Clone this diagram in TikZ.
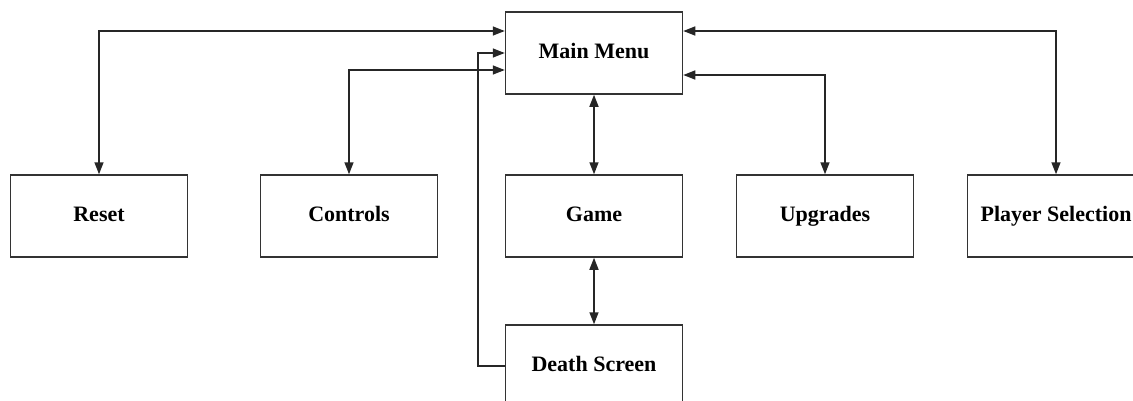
\documentclass[tikz,border=0pt]{standalone}
\usepackage{fontspec}
\setmainfont{Liberation Serif}
\usetikzlibrary{arrows.meta}
\begin{document}
\begin{tikzpicture}[x=1pt,y=-1pt,
  screen/.style={draw=black!80, line width=1.5pt, fill=white,
    minimum width=177pt, minimum height=82pt, inner sep=0pt,
    text height=14pt, text depth=4pt,
    font=\fontsize{22}{24}\selectfont\bfseries},
  tip/.style={Triangle[length=12pt,width=9pt]},
  link/.style={draw=black!85, line width=1.5pt, {Triangle[length=12pt,width=9pt]}-{Triangle[length=12pt,width=9pt]}},
  oneway/.style={draw=black!85, line width=1.5pt, -{Triangle[length=12pt,width=9pt]}}]
  \clip (0,0) rectangle (1133,400);
  \fill[white] (0,0) rectangle (1133,400);

  % screens of the game
  \node[screen] (mm)       at (594,53)  {Main Menu};
  \node[screen] (reset)    at (99,216)  {Reset};
  \node[screen] (controls) at (349,216) {Controls};
  \node[screen] (game)     at (594,216) {Game};
  \node[screen] (upgrades) at (825,216) {Upgrades};
  \node[screen] (players)  at (1056,216) {Player Selection};
  \node[screen] (death)    at (594,366) {Death Screen};

  % navigation between screens
  \draw[link] (reset.north) |- ([yshift=22pt]mm.west);
  \draw[link] (controls.north) |- ([yshift=-17pt]mm.west);
  \draw[link] (players.north) |- ([yshift=22pt]mm.east);
  \draw[link] (upgrades.north) |- ([yshift=-22pt]mm.east);
  \draw[link] (mm.south) -- (game.north);
  \draw[link] (game.south) -- (death.north);

  \coordinate (dsbend) at (478,366);
  \draw[oneway] (death.west) -- (dsbend) |- (mm.west);
\end{tikzpicture}
\end{document}
